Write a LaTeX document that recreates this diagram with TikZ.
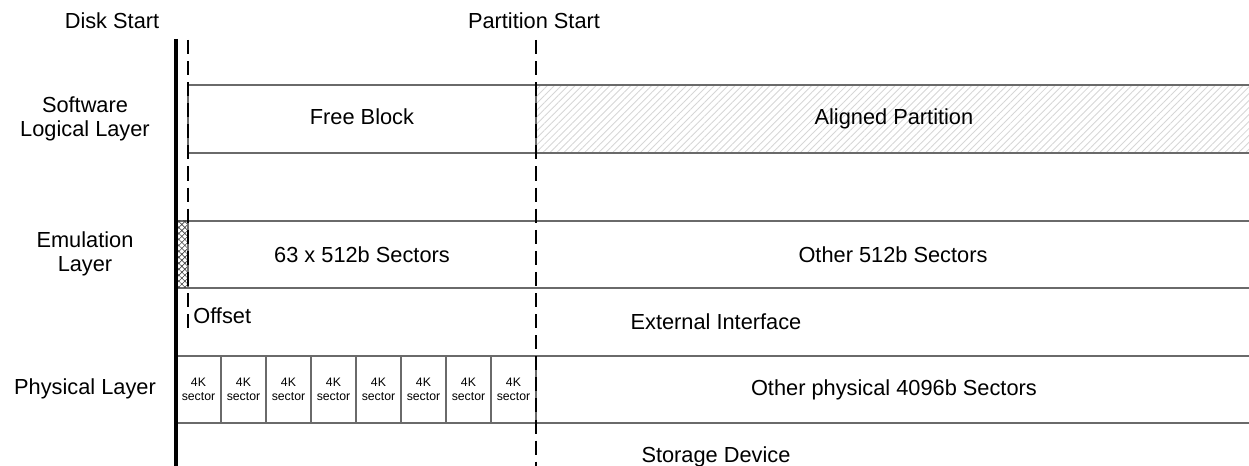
\documentclass[tikz,border=0pt]{standalone}
\usepackage{fontspec}
\setmainfont{Liberation Sans}
\usetikzlibrary{patterns.meta,positioning}

\definecolor{boxgray}{HTML}{6A6A6A}
\definecolor{hatchgray}{HTML}{D6D6D6}

\begin{document}
\begin{tikzpicture}[x=0.02cm,y=-0.02cm]
\tikzset{
  txt/.style={inner sep=0pt,font=\fontsize{12.4}{14}\selectfont,align=center},
  smalltxt/.style={font=\fontsize{7}{7.6}\selectfont,align=center},
  layerbox/.style={draw=boxgray,line width=0.8pt,inner sep=0pt,outer sep=0pt,
    minimum height=1.36cm,anchor=north west,txt,text height=1.6ex,text depth=0.4ex},
  sectorbox/.style={layerbox,minimum width=0.9cm,minimum height=1.34cm,smalltxt,text height=,text depth=},
  hatched/.style={pattern={Lines[angle=45,distance=2.8pt,line width=0.5pt]},pattern color=hatchgray},
  crossed/.style={postaction={pattern={Lines[angle=45,distance=2.4pt,line width=0.35pt]},pattern color=black!75},
    postaction={pattern={Lines[angle=-45,distance=2.4pt,line width=0.35pt]},pattern color=black!75}},
  diskline/.style={line width=1.8pt},
  marker/.style={line width=1pt,dash pattern=on 8pt off 4pt}
}
\useasboundingbox (0,0) rectangle (1249,466);

% layer names
\node[txt] (n_lbl_soft) at (85,119) {Software\\Logical Layer};
\node[txt] (n_lbl_emul) at (85,254) {Emulation\\Layer};
\node[txt] (n_lbl_phys) at (85,389) {Physical Layer};

% software logical layer
\node[layerbox,minimum width=6.96cm] (n_free) at (188,85) {Free Block};
\node[layerbox,hatched,minimum width=14.32cm] (n_part) at (536,85) {Aligned Partition};

% emulation layer
\node[layerbox,crossed,minimum width=0.24cm,minimum height=1.34cm] (n_offset) at (176,221) {};
\node[layerbox,minimum width=21.28cm,minimum height=1.34cm] (n_emul) at (188,221) {};
\node[txt] (n_emul_first) at (362,254.5) {63 x 512b Sectors};
\node[txt] (n_emul_other) at (893,254.5) {Other 512b Sectors};

% physical layer
\node[sectorbox] (n_sec_1) at (176,356) {4K\\sector};
\node[sectorbox] (n_sec_2) at (221,356) {4K\\sector};
\node[sectorbox] (n_sec_3) at (266,356) {4K\\sector};
\node[sectorbox] (n_sec_4) at (311,356) {4K\\sector};
\node[sectorbox] (n_sec_5) at (356,356) {4K\\sector};
\node[sectorbox] (n_sec_6) at (401,356) {4K\\sector};
\node[sectorbox] (n_sec_7) at (446,356) {4K\\sector};
\node[sectorbox] (n_sec_8) at (491,356) {4K\\sector};
\node[layerbox,minimum width=14.32cm,minimum height=1.34cm] (n_phys) at (536,356) {Other physical 4096b Sectors};

% in-between labels
\node[txt,anchor=west] (n_offset_lbl) at (193,316) {Offset};
\node[txt] (n_ext) at (716,322) {External Interface};
\node[txt] (n_dev) at (716,457) {Storage Device};

% start markers
\node[txt] (n_disk_start) at (112,21) {Disk Start};
\node[txt] (n_part_start) at (534,21) {Partition Start};
\coordinate (c_disk_top) at (176,39);
\coordinate (c_disk_bot) at (176,470);
\coordinate (c_off_top) at (188,40);
\coordinate (c_off_bot) at (188,331);
\coordinate (c_part_top) at (536,40);
\coordinate (c_part_bot) at (536,470);
\draw[diskline] (c_disk_top) -- (c_disk_bot);
\draw[marker] (c_off_top) -- (c_off_bot);
\draw[marker] (c_part_top) -- (c_part_bot);
\end{tikzpicture}
\end{document}
